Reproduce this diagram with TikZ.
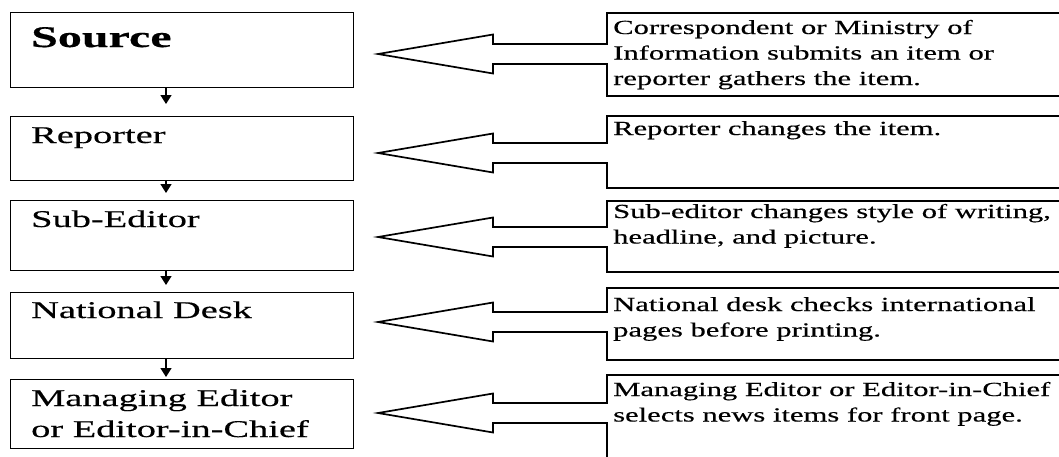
\documentclass[tikz,border=0pt]{standalone}
\usepackage{fontspec}
\setmainfont{Liberation Serif}
\newfontfamily\lfont[FakeStretch=1.6,FakeBold=0.4]{Liberation Serif}
\newfontfamily\rfont[FakeStretch=1.53,FakeBold=0.4]{Liberation Serif}
\usetikzlibrary{arrows.meta}
\newcommand\lines[1]{\begin{tabular}[t]{@{}l@{}}#1\end{tabular}}
\begin{document}
\begin{tikzpicture}[x=1pt,y=-1pt,
  lbox/.style={draw, line width=1.3pt, anchor=north west, inner sep=0pt, minimum width=343pt},
  ltext/.style={anchor=base west, inner sep=0pt, font=\lfont\fontsize{24}{31}\selectfont},
  rtext/.style={anchor=base west, inner sep=0pt, font=\rfont\fontsize{20}{25.5}\selectfont},
  callout/.style={draw, line width=1.7pt, line join=miter},
  flow/.style={line width=1.3pt, -{Triangle[width=11pt,length=9pt]}}]
\useasboundingbox (0,0) rectangle (1059,456);
\clip (0,0) rectangle (1059,456);

% left boxes
\node[lbox, minimum height=75pt]   (b1) at (10,12)    {};
\node[lbox, minimum height=64pt]   (b2) at (10,116)   {};
\node[lbox, minimum height=70pt]   (b3) at (10,200)   {};
\node[lbox, minimum height=66.5pt] (b4) at (10,291.5) {};
\node[lbox, minimum height=69pt]   (b5) at (10,379)   {};

\node[ltext, font=\lfont\bfseries\fontsize{30}{36}\selectfont] (t1) at (31,47) {Source};
\node[ltext] (t2) at (31,143) {Reporter};
\node[ltext] (t3) at (31,227) {Sub-Editor};
\node[ltext] (t4) at (31,318) {National Desk};
\node[ltext] (t5) at (31,406) {\lines{Managing Editor\\or Editor-in-Chief}};

% vertical flow arrows
\coordinate (ax) at (166,0);
\draw[flow, shorten >=12pt]  (ax |- b1.south) -- (ax |- b2.north);
\draw[flow, shorten >=7pt]   (ax |- b2.south) -- (ax |- b3.north);
\draw[flow, shorten >=6.5pt] (ax |- b3.south) -- (ax |- b4.north);
\draw[flow, shorten >=2pt]   (ax |- b4.south) -- (ax |- b5.north);

% right callout boxes with left-pointing arrows
\foreach \T/\B/\c in {13/96/54, 116/188/153, 201/272/237, 288/360/322, 375/480/413}{
  \draw[callout] (1075,\T) -- (607,\T) -- (607,\c-10) -- (493,\c-10) -- (493,\c-19.5)
    -- (378,\c) -- (493,\c+19.5) -- (493,\c+10) -- (607,\c+10) -- (607,\B) -- (1075,\B);
}

\node[rtext] (r1) at (613,34) {\lines{Correspondent or Ministry of\\Information submits an item or\\reporter gathers the item.}};
\node[rtext] (r2) at (613,135) {Reporter changes the item.};
\node[rtext] (r3) at (613,218) {\lines{Sub-editor changes style of writing,\\headline, and picture.}};
\node[rtext] (r4) at (613,311) {\lines{National desk checks international\\pages before printing.}};
\node[rtext] (r5) at (613,396) {\lines{Managing Editor or Editor-in-Chief\\selects news items for front page.}};
\end{tikzpicture}
\end{document}
